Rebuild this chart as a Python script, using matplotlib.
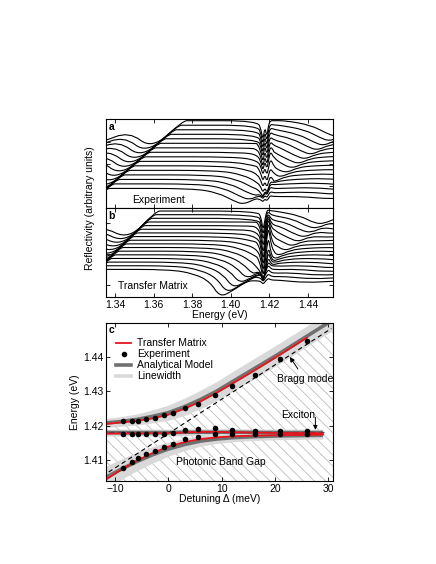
import numpy as np
import matplotlib
matplotlib.use("Agg")
import matplotlib.pyplot as plt
from matplotlib.path import Path
from matplotlib.patches import PathPatch
from matplotlib.lines import Line2D

plt.rcParams["font.family"] = ["Liberation Sans", "DejaVu Sans"]
plt.rcParams["font.size"] = 7.5
plt.rcParams["axes.linewidth"] = 0.8
plt.rcParams["hatch.color"] = "#bcbcbc"
plt.rcParams["hatch.linewidth"] = 0.6

# ── panel a: measured spectra (one entry per curve, bottom to top) ──
a_level = [0.220, 0.271, 0.321, 0.372, 0.423, 0.474, 0.524, 0.575,
           0.626, 0.676, 0.727, 0.778, 0.828, 0.879, 0.930, 0.981]
a_left = [1.3352, 1.3379, 1.3405, 1.3432, 1.3459, 1.3485, 1.3512, 1.3539,
          1.3565, 1.3592, 1.3619, 1.3645, 1.3672, 1.3699, 1.3725, 1.3752]
a_right = [1.4065, 1.4097, 1.4129, 1.4161, 1.4193, 1.4225, 1.4257, 1.4289,
           1.4321, 1.4353, 1.4385, 1.4417, 1.4449, 1.4481, 1.4513, 1.4545]
a_depth = [0.18] * 16
a_dip = [0.04, 0.05, 0.06, 0.07, 0.09, 0.11, 0.13, 0.15,
         0.17, 0.19, 0.20, 0.21, 0.22, 0.22, 0.22, 0.22]
a_peak = [0.02, 0.02, 0.03, 0.03, 0.04, 0.05, 0.06, 0.08,
          0.08, 0.06, 0.05, 0.04, 0.03, 0.02, 0.01, 0.0]

# ── panel b: transfer-matrix spectra ──
b_level = [0.310, 0.351, 0.392, 0.433, 0.474, 0.515, 0.556, 0.597, 0.638,
           0.679, 0.720, 0.761, 0.802, 0.843, 0.884, 0.925, 0.966]
b_left = [1.3308, 1.3327, 1.3346, 1.3365, 1.3384, 1.3403, 1.3422, 1.3441, 1.3460,
          1.3479, 1.3498, 1.3517, 1.3536, 1.3555, 1.3574, 1.3593, 1.3612]
b_right = [1.3943, 1.3977, 1.4011, 1.4045, 1.4079, 1.4113, 1.4147, 1.4181, 1.4215,
           1.4249, 1.4283, 1.4317, 1.4351, 1.4385, 1.4419, 1.4453, 1.4487]
b_depth = [0.310, 0.299, 0.289, 0.278, 0.267, 0.257, 0.246, 0.235, 0.224,
           0.214, 0.203, 0.192, 0.182, 0.171, 0.160, 0.150, 0.139]
b_dip = [0.04, 0.05, 0.06, 0.08, 0.10, 0.13, 0.17, 0.22, 0.27,
         0.30, 0.32, 0.32, 0.30, 0.28, 0.26, 0.24, 0.22]
b_peak = [0.02, 0.03, 0.04, 0.05, 0.07, 0.10, 0.14, 0.18, 0.22,
          0.24, 0.22, 0.18, 0.14, 0.10, 0.06, 0.03, 0.01]

# exciton feature energies (eV)
ex_energy = [1.4140, 1.4158, 1.4167, 1.4177, 1.4187, 1.4196, 1.4206, 1.4222]

# ── panel c: dispersion ──
exp_det = [-8.45, -6.8, -5.65, -4.2, -2.55, -0.8, 0.87, 3.1, 5.5, 8.8, 12.0, 16.2, 20.9, 26.1]
exp_up = [1.4213, 1.4215, 1.4215, 1.4219, 1.4223, 1.4230, 1.4237,
          1.4251, 1.4263, 1.4290, 1.4317, 1.4349, 1.4395, 1.4448]
exp_mid = [1.4177, 1.4177, 1.4177, 1.4177, 1.4177, 1.4177, 1.4180,
           1.4187, 1.4190, 1.4193, 1.4188, 1.4185, 1.4185, 1.4185]
exp_low = [1.4078, 1.4095, 1.4105, 1.4117, 1.4127, 1.4137, 1.4147,
           1.4162, 1.4167, 1.4175, 1.4175, 1.4175, 1.4175, 1.4175]

det_up = [-11.7, -9, -6, -3, 0, 3, 6, 9, 12, 16, 20, 24, 28, 30.9]
up_model = [1.4208, 1.4212, 1.4218, 1.4227, 1.4238, 1.4255, 1.4276,
            1.4300, 1.4328, 1.4365, 1.4402, 1.4441, 1.4480, 1.4508]
up_width = [0.0013, 0.0014, 0.0016, 0.0019, 0.0022, 0.0025, 0.0027,
            0.0028, 0.0029, 0.0030, 0.0030, 0.0030, 0.0030, 0.0030]
det_up_tm = [-11.7, -9, -6, -3, 0, 3, 6, 9, 12, 16, 20, 24, 26]
up_tm = [1.4205, 1.4209, 1.4214, 1.4221, 1.4232, 1.4249, 1.4270,
         1.4295, 1.4322, 1.4359, 1.4397, 1.4436, 1.4456]

det_mid = [-11.7, 0, 4, 8, 12, 20, 29]
mid_tm = [1.4177, 1.4178, 1.4181, 1.4182, 1.4181, 1.4179, 1.4178]
mid_model = [1.4180, 1.4180, 1.4181, 1.4181, 1.4181, 1.4180, 1.4180]
mid_width = [0.0010, 0.0010, 0.0010, 0.0010, 0.0010, 0.0010, 0.0010]

det_low = [-11.7, -9, -6, -3, 0, 3, 6, 9, 12, 16, 20, 24, 29]
low_tm = [1.4043, 1.4070, 1.4097, 1.4120, 1.4139, 1.4152, 1.4161,
          1.4166, 1.4169, 1.4171, 1.4172, 1.4173, 1.4174]
low_model = [1.4050, 1.4072, 1.4095, 1.4115, 1.4132, 1.4145, 1.4155,
             1.4161, 1.4165, 1.4168, 1.4170, 1.4171, 1.4172]
low_width = [0.0032, 0.0030, 0.0027, 0.0024, 0.0021, 0.0018, 0.0015,
             0.0013, 0.0012, 0.0011, 0.0011, 0.0011, 0.0011]

bragg_det = [-11.2, 30.6]
bragg_E = [1.4065, 1.4483]
exciton_det = [-11.2, 29.5]
exciton_E = [1.4182, 1.4182]


def spectrum(P, L, R, D, post, dip, peak, rise, hump, dip_w, peak_w):
    xs = [L - 0.070, L - 0.056, L - 0.042, L - 0.028, L - rise, L, L + 0.004,
          R - 0.026, R - 0.013, R - 0.005, R, R + 0.006, R + 0.014,
          R + 0.030, R + 0.045, R + 0.060, R + 0.080]
    ys = [P - 0.26, P - 0.31, P - 0.24, P - hump, P - 0.32, P, P,
          P, P - 0.05, P - 0.14, P - D, P - D + 0.06, P - post,
          P - post + 0.01, P - post - 0.02, P - post, P - post]
    base = np.interp(ex_energy, xs, ys)
    ex_y = [b - dip * dw + peak * pw for b, dw, pw in zip(base, dip_w, peak_w)]
    pts = [(x, y) for x, y in zip(xs, ys) if x < ex_energy[0] or x > ex_energy[-1]]
    pts += list(zip(ex_energy, ex_y))
    pts.sort()
    return pts


def smooth_patch(pts, lw=0.8):
    verts = [pts[0]]
    codes = [Path.MOVETO]
    for i in range(1, len(pts) - 1):
        mid = ((pts[i][0] + pts[i + 1][0]) / 2, (pts[i][1] + pts[i + 1][1]) / 2)
        verts += [pts[i], mid]
        codes += [Path.CURVE3, Path.CURVE3]
    verts.append(pts[-1])
    codes.append(Path.LINETO)
    return PathPatch(Path(verts, codes), fill=False, lw=lw, ec="black")


fig = plt.figure(figsize=(4.36, 5.64), dpi=100)
ax_a = fig.add_axes([0.2431, 0.6312, 0.5206, 0.1578])
ax_b = fig.add_axes([0.2431, 0.4734, 0.5206, 0.1578])
ax_c = fig.add_axes([0.2431, 0.1472, 0.5206, 0.2801])

a_dw = [0, 0.5, 1, 0.3, 0.85, 0.2, 0, 0]
a_pw = [0, 0, 0, 0, 0, 0, 1, 0.3]
for i in range(len(a_level)):
    pts = spectrum(a_level[i], a_left[i], a_right[i], a_depth[i], 0.10,
                   a_dip[i], a_peak[i], 0.016, 0.12, a_dw, a_pw)
    ax_a.add_patch(smooth_patch(pts))

b_dw = [0, 0.35, 1, 0.45, 0, 0, 0, 0]
b_pw = [0, 0, 0, 0, 0.45, 1, 0.4, 0]
for i in range(len(b_level)):
    pts = spectrum(b_level[i], b_left[i], b_right[i], b_depth[i], 0.13,
                   b_dip[i], b_peak[i], 0.014, 0.17, b_dw, b_pw)
    ax_b.add_patch(smooth_patch(pts))

for ax in (ax_a, ax_b):
    ax.set_xlim(1.3353, 1.453)
    ax.set_ylim(0, 1)
    ax.set_xticks([1.34, 1.36, 1.38, 1.40, 1.42, 1.44])
    ax.tick_params(direction="in", top=True, right=True, length=3, width=0.6,
                   labelleft=False, pad=2)
ax_a.set_yticks([0.25, 0.49, 0.74])
ax_b.set_yticks([0.13, 0.48, 0.83])
ax_a.tick_params(labelbottom=False)
ax_b.set_xticklabels(["1.34", "1.36", "1.38", "1.40", "1.42", "1.44"])
ax_b.set_xlabel("Energy (eV)", labelpad=0)

ax_a.text(0.012, 0.97, "a", transform=ax_a.transAxes, fontweight="bold", va="top")
ax_b.text(0.012, 0.97, "b", transform=ax_b.transAxes, fontweight="bold", va="top")
ax_a.text(1.3623, 0.085, "Experiment", ha="center", va="center")
ax_b.text(1.3597, 0.12, "Transfer Matrix", ha="center", va="center")
fig.text(0.206, 0.631, "Reflectivity (arbitrary units)", rotation=90,
         ha="center", va="center")

# ── panel c ──
ax = ax_c
lo_edge = [m - w for m, w in zip(up_model, up_width)]
ax.fill_between(det_up, 1.40, lo_edge, facecolor="none", edgecolor="#bcbcbc",
                hatch="\\\\\\", linewidth=0)
for d, m, w in ((det_up, up_model, up_width), (det_mid, mid_model, mid_width),
                (det_low, low_model, low_width)):
    ax.fill_between(d, [a - b for a, b in zip(m, w)], [a + b for a, b in zip(m, w)],
                    color="#d9d9d9", linewidth=0)
for d, m in ((det_up, up_model), (det_mid, mid_model), (det_low, low_model)):
    ax.plot(d, m, color="#707070", lw=2.6, solid_capstyle="butt")
ax.plot(bragg_det, bragg_E, color="black", lw=0.8, dashes=(4, 3))
ax.plot(exciton_det, exciton_E, color="#3b3f6b", lw=0.9, dashes=(4, 3))
for d, m in ((det_up_tm, up_tm), (det_mid, mid_tm), (det_low, low_tm)):
    ax.plot(d, m, color="#e8141c", lw=1.3)
for e in (exp_up, exp_mid, exp_low):
    ax.plot(exp_det, e, "o", color="black", ms=4, mec="none")

ax.set_xlim(-11.7, 30.9)
ax.set_ylim(1.4039, 1.4499)
ax.set_xticks([-10, 0, 10, 20, 30])
ax.set_yticks([1.41, 1.42, 1.43, 1.44])
ax.tick_params(direction="in", top=True, right=True, length=3, width=0.6, pad=2)
ax.set_xlabel("Detuning \u0394 (meV)", labelpad=0)
ax.set_ylabel("Energy (eV)", labelpad=2)

ax.text(0.012, 0.985, "c", transform=ax.transAxes, fontweight="bold", va="top")
handles = [Line2D([], [], color="#e8141c", lw=1.3),
           Line2D([], [], color="black", marker="o", ms=4, ls="none", mec="none"),
           Line2D([], [], color="#707070", lw=2.6),
           Line2D([], [], color="#d9d9d9", lw=2.6)]
ax.legend(handles, ["Transfer Matrix", "Experiment", "Analytical Model", "Linewidth"],
          loc="upper left", bbox_to_anchor=(0.025, 0.93), frameon=False,
          handlelength=1.5, handletextpad=0.5, labelspacing=0.1, borderaxespad=0.2,
          borderpad=0.2)

ax.annotate("Bragg mode", xy=(22.8, 1.4400), xytext=(25.6, 1.4336),
            ha="center", va="center",
            arrowprops=dict(arrowstyle="-|>", color="black", lw=0.7,
                            mutation_scale=7, shrinkA=2, shrinkB=0))
ax.text(24.3, 1.4230, "Exciton", ha="center", va="center")
ax.annotate("", xy=(27.6, 1.4188), xytext=(27.6, 1.4224),
            arrowprops=dict(arrowstyle="-|>", color="black", lw=0.7,
                            mutation_scale=6, shrinkA=0, shrinkB=0))
ax.text(9.8, 1.4095, "Photonic Band Gap", ha="center", va="center")

fig.savefig("out.png", dpi=100)
